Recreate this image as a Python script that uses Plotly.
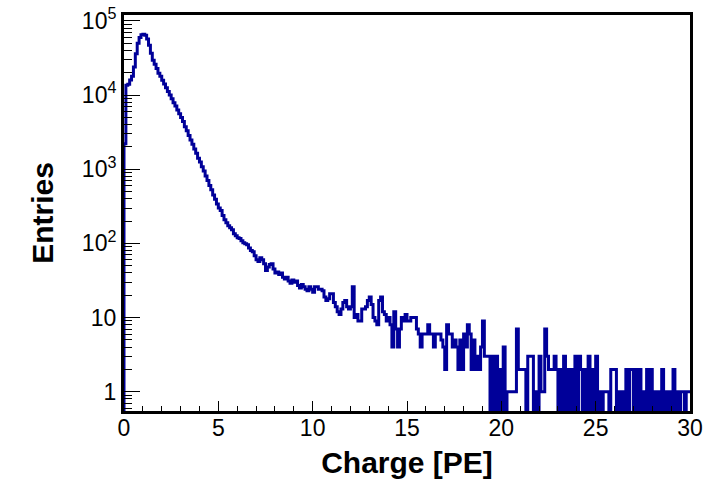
import numpy as np
import plotly.graph_objects as go

# ---- data ----
x_low = 0.0
x_high = 30.0
n_bins = 300

counts = [
    # 0.0 - 5.0
    2200, 13600, 14000, 16000, 18000, 24000, 36000, 50000, 60000, 65000,
    66000, 64000, 57000, 47000, 36600, 29500, 26000, 22900, 19700, 17900,
    15800, 14100, 12600, 11200, 10000, 8900, 7900, 7100, 6300, 5600,
    5000, 4400, 3750, 3300, 2850, 2480, 2170, 1870, 1640, 1410,
    1250, 1080, 945, 810, 705, 605, 530, 450, 395, 340,
    # 5.0 - 10.0
    300, 277, 237, 209, 190, 173, 163, 153, 135, 127,
    119, 116, 109, 102, 99, 96, 87, 80, 77, 68,
    60, 57, 64, 60, 53, 43, 48, 52, 53, 45,
    40, 41, 38, 40, 35, 33, 35, 31, 29, 32,
    30, 31, 27, 25, 28, 26, 24, 23, 26, 24,
    # 10.0 - 15.0
    22, 26, 26, 24, 24, 23, 19, 17, 18, 21,
    21, 16, 14, 12, 11, 13, 16, 17, 14, 13,
    14, 26, 10, 11, 9, 9, 13, 13, 14, 17,
    19, 15, 10, 9, 8, 17, 19, 12, 11, 9,
    10, 8, 4, 12, 7, 4, 7, 10, 9, 11,
    # 15.0 - 20.0
    9, 9, 10, 10, 10, 7, 6, 4, 6, 6,
    6, 8, 6, 6, 4, 6, 6, 6, 5, 4,
    2, 8, 6, 6, 4, 5, 4, 2, 5, 2,
    6, 4, 8, 6, 2, 5, 2, 3, 2, 4,
    9, 3, 3, 3, 0, 3, 0, 3, 0, 2,
    # 20.0 - 25.0
    0, 4, 0, 1, 1, 1, 1, 1, 7, 2,
    2, 2, 2, 0, 3, 3, 3, 0, 1, 0,
    3, 1, 1, 7, 3, 2, 2, 2, 3, 2,
    0, 2, 0, 3, 0, 2, 0, 2, 0, 3,
    0, 3, 2, 0, 2, 0, 3, 0, 2, 0,
    # 25.0 - 30.0
    3, 0, 1, 0, 1, 1, 1, 0, 2, 2,
    2, 0, 1, 0, 1, 0, 2, 0, 2, 2,
    0, 2, 0, 2, 0, 1, 0, 2, 0, 2,
    0, 1, 0, 1, 0, 2, 0, 1, 0, 1,
    0, 2, 0, 1, 0, 1, 1, 0, 1, 1,
]

x_ticks = [0, 5, 10, 15, 20, 25, 30]
y_ticks = [1, 10, 100, 1000, 10000, 100000]
y_ticktext = ["1", "10", "10<sup>2</sup>", "10<sup>3</sup>", "10<sup>4</sup>", "10<sup>5</sup>"]

x_title = "Charge [PE]"
y_title = "Entries"

# ---- build ROOT-like step outline from the bin contents ----
edges = np.linspace(x_low, x_high, n_bins + 1)
vals = np.array(counts, dtype=float)
floor_val = 0.05  # zero bins drop below the frame (log axis), like ROOT
plot_vals = np.where(vals > 0, vals, floor_val)

xs = [edges[0]]
ys = [floor_val]
for i in range(n_bins):
    xs += [edges[i], edges[i + 1]]
    ys += [plot_vals[i], plot_vals[i]]

minor_y = [m * 10.0 ** k for k in range(-1, 5) for m in range(2, 10)]

font_family = "Liberation Sans, Arial, Helvetica, sans-serif"

fig = go.Figure()
fig.add_trace(go.Scatter(
    x=xs, y=ys, mode="lines",
    line=dict(color="#000099", width=3),
    hoverinfo="skip", showlegend=False,
))

fig.update_layout(
    width=718, height=479,
    margin=dict(l=124, r=28, t=15, b=68),
    paper_bgcolor="white", plot_bgcolor="white",
    showlegend=False,
    font=dict(family=font_family, color="black"),
)

fig.update_xaxes(
    range=[x_low, x_high], automargin=False,
    showline=True, linecolor="black", linewidth=3, mirror=True,
    showgrid=False, zeroline=False,
    ticks="inside", ticklen=10, tickwidth=1, tickcolor="black",
    tickmode="array", tickvals=x_ticks, ticktext=[str(t) for t in x_ticks],
    tickfont=dict(size=23, family=font_family, color="black"),
    ticklabelstandoff=-6,
    minor=dict(ticks="inside", ticklen=5, tickwidth=1, tickcolor="black",
               dtick=1, tick0=0, showgrid=False),
    title=dict(text=x_title, standoff=20,
               font=dict(size=30, family=font_family, color="black", weight="bold")),
)

fig.update_yaxes(
    type="log", range=[-0.26, 5.08], automargin=False,
    showline=True, linecolor="black", linewidth=3, mirror=True,
    showgrid=False, zeroline=False,
    ticks="inside", ticklen=16, tickwidth=1, tickcolor="black",
    tickmode="array", tickvals=y_ticks, ticktext=y_ticktext,
    tickfont=dict(size=23, family=font_family, color="black"),
    minor=dict(ticks="inside", ticklen=8, tickwidth=1, tickcolor="black",
               tickmode="array", tickvals=minor_y, showgrid=False),
    title=dict(text=y_title, standoff=20,
               font=dict(size=30, family=font_family, color="black", weight="bold")),
)

fig.write_html("out.html")
